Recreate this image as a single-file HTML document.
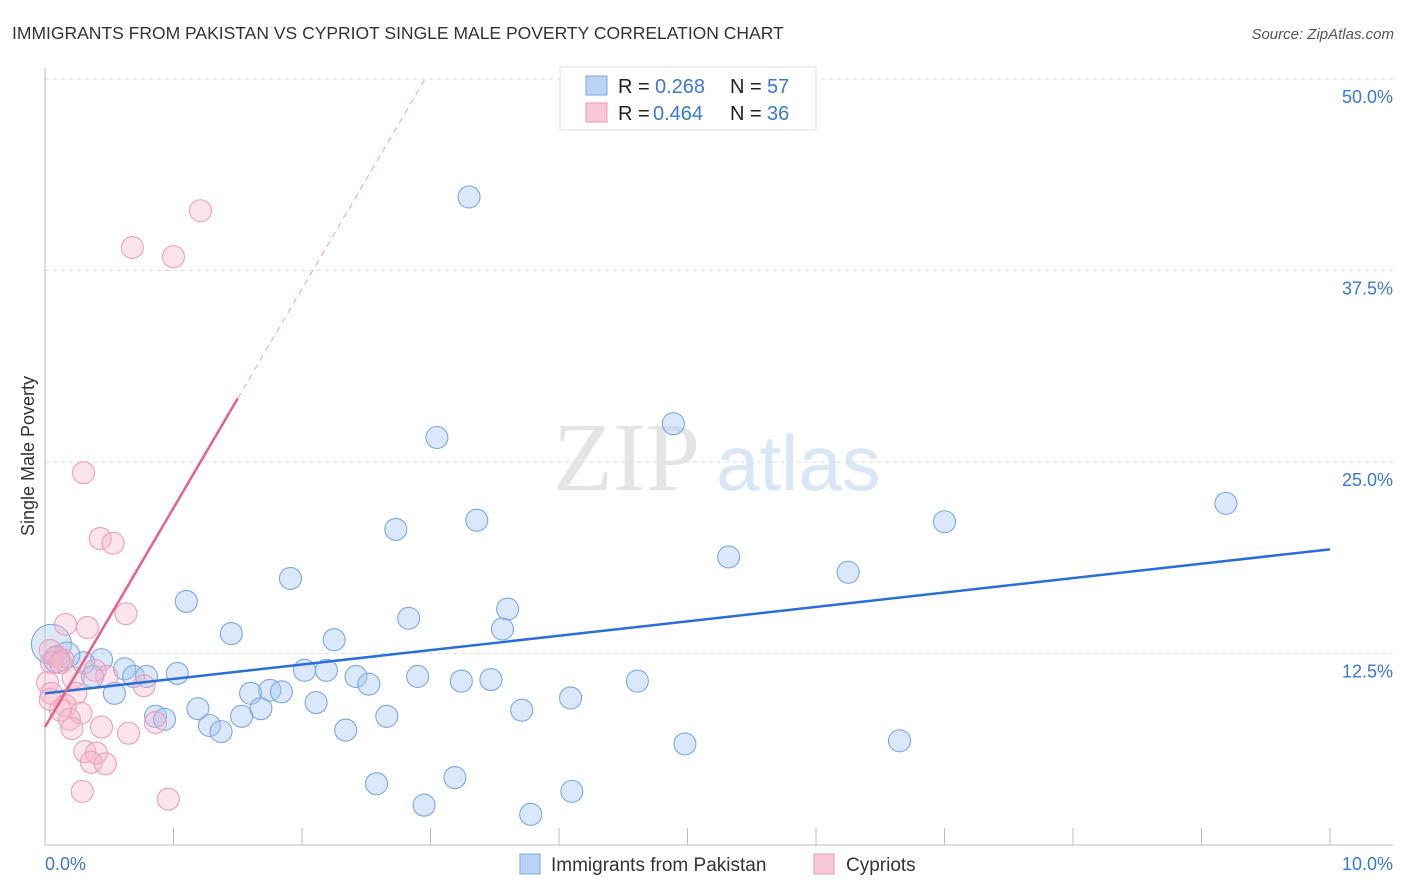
<!DOCTYPE html>
<html><head><meta charset="utf-8"><style>
body{margin:0;background:#fff;font-family:"Liberation Sans",sans-serif}
</style></head><body>
<svg id="chart" width="1406" height="892" style="display:block">
<text x="12" y="39" font-size="17.5" fill="#333">IMMIGRANTS FROM PAKISTAN VS CYPRIOT SINGLE MALE POVERTY CORRELATION CHART</text>
<text x="1394" y="39" font-size="15" fill="#555" font-style="italic" text-anchor="end">Source: ZipAtlas.com</text>
<g>
<text x="553" y="490" font-size="98" fill="#e4e4e4" font-family="Liberation Serif,serif">ZIP</text>
<text x="716" y="490" font-size="78" fill="#d8e6f6">atlas</text>
</g>
<g id="grid"></g>
<g id="axes"></g>
<g id="marks"></g>
<text transform="translate(34,456) rotate(-90)" font-size="18" fill="#333" text-anchor="middle">Single Male Poverty</text>
<g>
<rect x="560" y="67" width="256" height="63" fill="#fff" stroke="#ddd"/>
<rect x="586" y="76" width="21" height="19" fill="#b9d3f5" stroke="#7aa7e6"/>
<rect x="586" y="103" width="21" height="19" fill="#f9c8d8" stroke="#ec9ab5"/>
<text y="93" font-size="20" fill="#222"><tspan x="618">R =</tspan><tspan x="655" fill="#3a78d4">0.268</tspan><tspan x="730">N =</tspan><tspan x="767" fill="#3a78d4">57</tspan></text>
<text y="120" font-size="20" fill="#222"><tspan x="618">R =</tspan><tspan x="653" fill="#3a78d4">0.464</tspan><tspan x="730">N =</tspan><tspan x="767" fill="#3a78d4">36</tspan></text>
</g>
<g>
<rect x="520" y="854" width="20" height="20" fill="#b9d3f5" stroke="#7aa7e6"/>
<text x="551" y="871" font-size="19" fill="#333">Immigrants from Pakistan</text>
<rect x="814" y="854" width="20" height="20" fill="#f9c8d8" stroke="#ec9ab5"/>
<text x="846" y="871" font-size="19" fill="#333">Cypriots</text>
</g>
</svg>
<script>
const blueX=[3.30,3.05,4.89,9.19,7.00,3.36,2.73,5.32,6.25,1.91,1.10,3.60,2.83,3.56,1.45,2.25,0.44,0.30,0.62,0.37,0.69,0.79,1.03,2.02,2.19,2.42,2.90,2.52,3.24,3.47,4.61,0.54,1.60,1.75,1.84,1.19,1.68,2.11,3.71,4.09,0.86,0.93,1.53,2.66,1.28,1.37,2.34,4.98,6.65,2.58,3.19,2.95,3.78,4.10,0.05,0.17,0.09];
const blueY=[42.3,26.6,27.5,22.3,21.1,21.2,20.6,18.8,17.8,17.4,15.9,15.4,14.8,14.1,13.8,13.4,12.1,11.9,11.5,11.0,11.0,11.0,11.2,11.4,11.4,11.0,11.0,10.5,10.7,10.8,10.7,9.9,9.9,10.1,10.0,8.9,8.9,9.3,8.8,9.6,8.4,8.2,8.4,8.4,7.8,7.4,7.5,6.6,6.8,4.0,4.4,2.6,2.0,3.5,13.1,12.4,12.1];
const blueR=[11,11,11,11,11,11,11,11,11,11,11,11,11,11,11,11,11,11,11,11,11,11,11,11,11,11,11,11,11,11,11,11,11,11,11,11,11,11,11,11,11,11,11,11,11,11,11,11,11,11,11,11,11,11,20,13,13];
const pinkX=[1.21,0.68,1.00,0.30,0.43,0.53,0.63,0.16,0.33,0.04,0.09,0.14,0.05,0.48,0.22,0.02,0.77,0.24,0.05,0.16,0.28,0.12,0.19,0.21,0.44,0.65,0.86,0.31,0.40,0.36,0.47,0.29,0.96,0.04,0.39,0.12];
const pinkY=[41.4,39.0,38.4,24.3,20.0,19.7,15.1,14.4,14.2,12.7,12.3,12.1,11.9,11.0,10.9,10.6,10.4,9.9,9.9,9.1,8.6,8.8,8.2,7.6,7.7,7.3,8.0,6.1,6.0,5.4,5.3,3.5,3.0,9.5,11.4,11.9];
const blueTrend=[9.9,0.94];
const pinkTrend=[7.7,14.3];
const yTicks=[12.5,25.0,37.5,50.0];
const xTickLabels=["0.0%","10.0%"];
const NS="http://www.w3.org/2000/svg";
const X=v=>45+v*128.5, Y=v=>845-v*15.32;
function mk(p,t,a){const e=document.createElementNS(NS,t);for(const k in a)e.setAttribute(k,a[k]);p.appendChild(e);return e;}
const grid=document.getElementById('grid'),axes=document.getElementById('axes'),marks=document.getElementById('marks');
yTicks.forEach(t=>{
 const l=mk(grid,'line',{x1:45,x2:1393,y1:Y(t),y2:Y(t),stroke:'#ddd','stroke-dasharray':'4,4'});
 
 
 const tx=mk(axes,'text',{x:1393,y:Y(t)+24,'font-size':18,fill:'#3a78d4','text-anchor':'end'});tx.textContent=t.toFixed(1)+'%';
 
 
});
mk(axes,'line',{x1:45,x2:45,y1:68,y2:845,stroke:'#bbb'});
mk(axes,'line',{x1:45,x2:1393,y1:845,y2:845,stroke:'#bbb'});
for(let i=0;i<=10;i++){const t=mk(axes,'line',{x1:X(i),x2:X(i),y1:828,y2:845,stroke:'#bbb'});
 
 }
const l0=mk(axes,'text',{x:45,y:870,'font-size':18,fill:'#3a78d4'});l0.textContent=xTickLabels[0];


const l1=mk(axes,'text',{x:1393,y:870,'font-size':18,fill:'#3a78d4','text-anchor':'end'});l1.textContent=xTickLabels[1];


blueX.forEach((x,i)=>{const c=mk(marks,'circle',{cx:X(x),cy:Y(blueY[i]),r:blueR[i],fill:'rgba(165,198,240,0.4)',stroke:'#7aa8e4','stroke-width':1.1});
 
 });
pinkX.forEach((x,i)=>{const c=mk(marks,'circle',{cx:X(x),cy:Y(pinkY[i]),r:11,fill:'rgba(246,178,200,0.35)',stroke:'#eba0b9','stroke-width':1.1});
 
 });
const bt=mk(marks,'line',{x1:X(0),y1:Y(blueTrend[0]),x2:X(10),y2:Y(blueTrend[0]+blueTrend[1]*10),stroke:'#2a6fd6','stroke-width':2.5});


const pe=(50-pinkTrend[0])/pinkTrend[1];
const pt=mk(marks,'line',{x1:X(0),y1:Y(pinkTrend[0]),x2:X(1.5),y2:Y(pinkTrend[0]+pinkTrend[1]*1.5),stroke:'#e8608c','stroke-width':2.5});


const pd=mk(marks,'line',{x1:X(1.5),y1:Y(pinkTrend[0]+pinkTrend[1]*1.5),x2:X(pe),y2:Y(50),stroke:'#f0a0b8','stroke-width':1,'stroke-dasharray':'6,5'});


</script>
</body></html>
